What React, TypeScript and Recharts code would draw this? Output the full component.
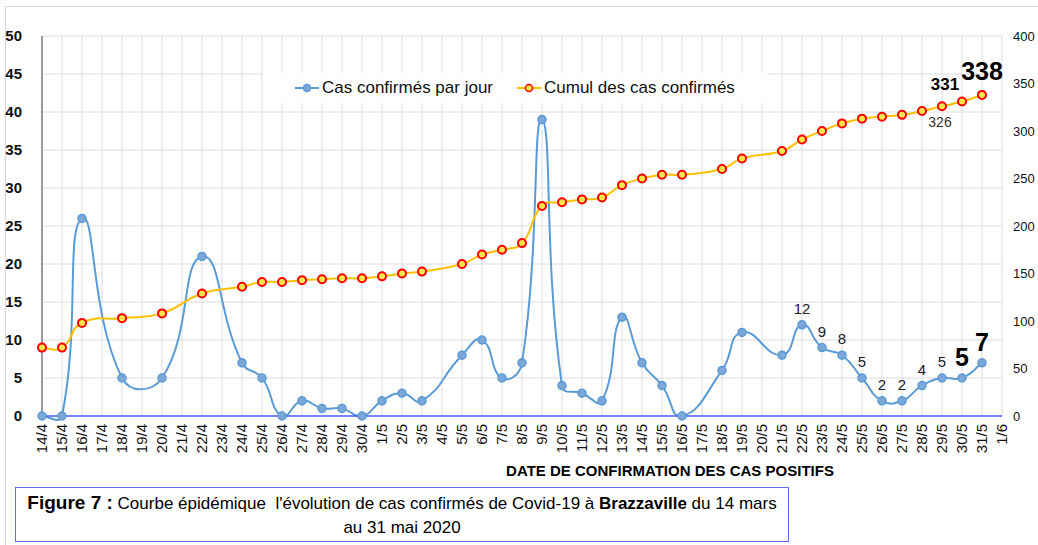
import React from "react";
import { LineChart, Line, XAxis, YAxis, CartesianGrid, LabelList } from "recharts";

// dates on the axis (some days have no reading -> null)
const dates = [
  "14/4", "15/4", "16/4", "17/4", "18/4", "19/4", "20/4", "21/4", "22/4", "23/4",
  "24/4", "25/4", "26/4", "27/4", "28/4", "29/4", "30/4", "1/5", "2/5", "3/5",
  "4/5", "5/5", "6/5", "7/5", "8/5", "9/5", "10/5", "11/5", "12/5", "13/5",
  "14/5", "15/5", "16/5", "17/5", "18/5", "19/5", "20/5", "21/5", "22/5", "23/5",
  "24/5", "25/5", "26/5", "27/5", "28/5", "29/5", "30/5", "31/5", "1/6",
];

const dailyCases = [
  0, 0, 26, null, 5, null, 5, null, 21, null,
  7, 5, 0, 2, 1, 1, 0, 2, 3, 2,
  null, 8, 10, 5, 7, 39, 4, 3, 2, 13,
  7, 4, 0, null, 6, 11, null, 8, 12, 9,
  8, 5, 2, 2, 4, 5, 5, 7, null,
];

const cumulativeCases = [
  72, 72, 98, null, 103, null, 108, null, 129, null,
  136, 141, 141, 143, 144, 145, 145, 147, 150, 152,
  null, 160, 170, 175, 182, 221, 225, 228, 230, 243,
  250, 254, 254, null, 260, 271, null, 279, 291, 300,
  308, 313, 315, 317, 321, 326, 331, 338, null,
];

const leftTicks = [0, 5, 10, 15, 20, 25, 30, 35, 40, 45, 50];
const rightTicks = [0, 50, 100, 150, 200, 250, 300, 350, 400];

// which points carry a value label
const dailyLabelled = ["22/5", "23/5", "24/5", "25/5", "26/5", "27/5", "28/5", "29/5"];
const dailyHighlighted = ["30/5", "31/5"];

const data = dates.map((date, i) => ({
  date,
  daily: dailyCases[i],
  cumul: cumulativeCases[i],
}));

const FONT = "'Liberation Sans Narrow', 'Arial Narrow', 'Liberation Sans', Arial, sans-serif";

// lissage type excel : tangentes pondérées par la longueur des segments
const smoothCurve = (context: any) => {
  let pts: number[][] = [];
  const dist = (a: number[], b: number[]) => Math.hypot(b[0] - a[0], b[1] - a[1]) || 1;
  return {
    areaStart() {},
    areaEnd() {},
    lineStart() {
      pts = [];
    },
    point(x: number, y: number) {
      pts.push([+x, +y]);
    },
    lineEnd() {
      const n = pts.length;
      if (!n) return;
      context.moveTo(pts[0][0], pts[0][1]);
      const t = 0.5;
      // control points around each point
      const outC: number[][] = [];
      const inC: number[][] = [];
      for (let i = 0; i < n; i++) {
        const p = pts[i];
        if (i === 0 || i === n - 1) {
          const q = i === 0 ? pts[Math.min(1, n - 1)] : pts[n - 2];
          outC[i] = [p[0] + (q[0] - p[0]) / 3, p[1] + (q[1] - p[1]) / 3];
          inC[i] = outC[i];
          continue;
        }
        const a = pts[i - 1];
        const b = pts[i + 1];
        const lIn = dist(a, p);
        const lOut = dist(p, b);
        const dx = b[0] - a[0];
        const dy = b[1] - a[1];
        const kOut = (t * lOut) / (lIn + lOut);
        const kIn = (t * lIn) / (lIn + lOut);
        outC[i] = [p[0] + dx * kOut, p[1] + dy * kOut];
        inC[i] = [p[0] - dx * kIn, p[1] - dy * kIn];
      }
      for (let i = 0; i < n - 1; i++) {
        const c1 = outC[i];
        const c2 = inC[i + 1];
        context.bezierCurveTo(c1[0], c1[1], c2[0], c2[1], pts[i + 1][0], pts[i + 1][1]);
      }
    },
  };
};

const DateTick = (props: any) => {
  const { x, y, payload } = props;
  return (
    <text
      x={x}
      y={y}
      dy="0.35em"
      textAnchor="end"
      transform={`rotate(-90, ${x}, ${y})`}
      fontSize={15}
      fontFamily={FONT}
      fill="#111"
    >
      {payload.value}
    </text>
  );
};

const renderDailyLabel = (props: any) => {
  const { x, y, value, index } = props;
  if (value == null || x == null) return null;
  const d = dates[index];
  if (dailyHighlighted.includes(d)) {
    return (
      <text x={x} y={y - 12} textAnchor="middle" fontSize={25} fontWeight={700} fontFamily={FONT} fill="#000">
        {value}
      </text>
    );
  }
  if (dailyLabelled.includes(d)) {
    return (
      <text x={x} y={y - 11} textAnchor="middle" fontSize={15} fontFamily={FONT} fill="#222">
        {value}
      </text>
    );
  }
  return null;
};

const renderCumulLabel = (props: any) => {
  const { x, y, value, index } = props;
  if (value == null || x == null) return null;
  const d = dates[index];
  if (d === "29/5") {
    return (
      <text x={x - 2} y={y + 21} textAnchor="middle" fontSize={14} fontFamily={FONT} fill="#333">
        {value}
      </text>
    );
  }
  if (d === "30/5") {
    return (
      <text x={x - 17} y={y - 12} textAnchor="middle" fontSize={17} fontWeight={700} fontFamily={FONT} fill="#000">
        {value}
      </text>
    );
  }
  if (d === "31/5") {
    return (
      <text x={x} y={y - 15} textAnchor="middle" fontSize={25} fontWeight={700} fontFamily={FONT} fill="#000">
        {value}
      </text>
    );
  }
  return null;
};

const LegendMarker = ({ line, fill, stroke }: { line: string; fill: string; stroke: string }) => (
  <svg width={24} height={12} style={{ marginRight: 3 }}>
    <line x1={0} y1={6} x2={24} y2={6} stroke={line} strokeWidth={2} />
    <circle cx={12} cy={6} r={3.5} fill={fill} stroke={stroke} strokeWidth={1.5} />
  </svg>
);

export default function App() {
  return (
    <div
      style={{
        position: "absolute",
        left: 0,
        top: 0,
        width: 1038,
        height: 545,
        background: "#fff",
        overflow: "hidden",
        fontFamily: FONT,
      }}
    >
      {/* cadre gris clair */}
      <div
        style={{
          position: "absolute",
          left: 5,
          top: 6,
          width: 1040,
          height: 560,
          border: "1px solid #d9d9d9",
        }}
      />

      <div style={{ position: "absolute", left: 0, top: 0 }}>
        <LineChart width={1038} height={480} data={data} margin={{ top: 36, right: 0, bottom: 14, left: 0 }}>
          <CartesianGrid yAxisId="left" stroke="#dcdcdc" strokeWidth={1} />
          <XAxis
            dataKey="date"
            interval={0}
            tickLine={false}
            axisLine={{ stroke: "#4a5cff", strokeWidth: 1.5 }}
            height={50}
            tickMargin={2}
            tick={<DateTick />}
          />
          <YAxis
            yAxisId="left"
            domain={[0, 50]}
            ticks={leftTicks}
            width={42}
            tickLine={false}
            axisLine={{ stroke: "#7f7f7f", strokeWidth: 1.5 }}
            tickMargin={14}
            tick={{ fill: "#111", fontSize: 15, fontWeight: 700, fontFamily: FONT }}
          />
          <YAxis
            yAxisId="right"
            orientation="right"
            domain={[0, 400]}
            ticks={rightTicks}
            width={36}
            tickLine={false}
            axisLine={false}
            tickMargin={5}
            tick={{ fill: "#111", fontSize: 13, fontFamily: FONT, textAnchor: "start" }}
          />
          <Line
            yAxisId="left"
            dataKey="daily"
            type={smoothCurve as any}
            stroke="#5b9bd5"
            strokeWidth={2}
            connectNulls
            dot={{ r: 4, fill: "#7da7d9", stroke: "#5b9bd5", strokeWidth: 1.5 }}
            isAnimationActive={false}
          >
            <LabelList dataKey="daily" content={renderDailyLabel} />
          </Line>
          <Line
            yAxisId="right"
            dataKey="cumul"
            type={smoothCurve as any}
            stroke="#ffc000"
            strokeWidth={2}
            connectNulls
            dot={{ r: 4, fill: "#ffe94d", stroke: "#ff0000", strokeWidth: 2 }}
            isAnimationActive={false}
          >
            <LabelList dataKey="cumul" content={renderCumulLabel} />
          </Line>
        </LineChart>
      </div>

      {/* légende */}
      <div
        style={{
          position: "absolute",
          left: 263,
          top: 73,
          width: 505,
          height: 30,
          background: "#fff",
          display: "flex",
          alignItems: "center",
          fontSize: 17,
          color: "#111",
          whiteSpace: "nowrap",
        }}
      >
        <div style={{ display: "flex", alignItems: "center", marginLeft: 32 }}>
          <LegendMarker line="#5b9bd5" fill="#7da7d9" stroke="#5b9bd5" />
          <span>Cas confirmés par jour</span>
        </div>
        <div style={{ display: "flex", alignItems: "center", marginLeft: 24 }}>
          <LegendMarker line="#ffc000" fill="#ffe94d" stroke="#ff0000" />
          <span>Cumul des cas confirmés</span>
        </div>
      </div>

      {/* titre de l'axe X */}
      <div
        style={{
          position: "absolute",
          left: 420,
          width: 500,
          top: 462,
          textAlign: "center",
          fontSize: 15,
          fontWeight: 700,
          color: "#000",
        }}
      >
        DATE DE CONFIRMATION DES CAS POSITIFS
      </div>

      {/* légende de la figure */}
      <div
        style={{
          position: "absolute",
          left: 15,
          top: 487,
          width: 774,
          height: 55,
          border: "1px solid #5b6cf0",
          boxSizing: "border-box",
          textAlign: "center",
          fontSize: 17,
          lineHeight: "24px",
          paddingTop: 3,
          color: "#000",
        }}
      >
        <span style={{ fontWeight: 700, fontSize: 19 }}>Figure 7 :</span> Courbe épidémique&nbsp; l'évolution de cas
        confirmés de Covid-19 à <b>Brazzaville</b> du 14 mars
        <br />
        au 31 mai 2020
      </div>
    </div>
  );
}
